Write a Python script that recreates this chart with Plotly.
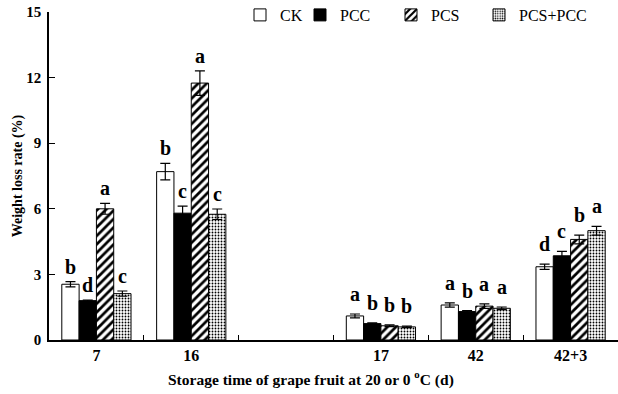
import plotly.graph_objects as go

# ---- data ----
categories = ["7", "16", "17", "42", "42+3"]
axis_categories = ["7", "16", " ", "17", "42", "42+3"]
series_names = ["CK", "PCC", "PCS", "PCS+PCC"]

ck = [2.55, 7.70, 1.10, 1.60, 3.35]
pcc = [1.80, 5.80, 0.75, 1.30, 3.85]
pcs = [6.00, 11.75, 0.65, 1.55, 4.60]
pcs_pcc = [2.12, 5.75, 0.60, 1.45, 5.00]

ck_err = [0.12, 0.38, 0.09, 0.10, 0.12]
pcc_err = [0.03, 0.32, 0.03, 0.04, 0.20]
pcs_err = [0.25, 0.56, 0.04, 0.10, 0.20]
pcs_pcc_err = [0.12, 0.24, 0.03, 0.06, 0.20]

ck_letters = ["b", "b", "a", "a", "d"]
pcc_letters = ["d", "c", "b", "b", "c"]
pcs_letters = ["a", "a", "b", "a", "b"]
pcs_pcc_letters = ["c", "c", "b", "a", "a"]

values = [ck, pcc, pcs, pcs_pcc]
errors = [ck_err, pcc_err, pcs_err, pcs_pcc_err]
letters = [ck_letters, pcc_letters, pcs_letters, pcs_pcc_letters]

# ---- style ----
FONT = "Liberation Serif"
W, H = 618, 394
M_L, M_R, M_T, M_B = 49, 0, 12, 54
BARGAP = 0.27
label_shift = [2, 2, 7, 7, 7]

patterns = [
    dict(shape="", fillmode="replace"),
    dict(shape="", fillmode="replace"),
    dict(shape="/", size=6, solidity=0.45, fgcolor="black", bgcolor="white", fillmode="replace"),
    dict(shape=".", size=3, solidity=0.3, fgcolor="black", bgcolor="white", fillmode="replace"),
]
fills = ["white", "black", "white", "white"]
legend_ids = ["legend", "legend2", "legend3", "legend4"]
legend_px = [240, 300, 391, 479]

fig = go.Figure()
for i, name in enumerate(series_names):
    fig.add_trace(go.Bar(
        name=name,
        x=categories,
        y=values[i],
        marker=dict(color=fills[i], line=dict(color="black", width=1), pattern=patterns[i]),
        error_y=dict(type="data", array=errors[i], visible=True, color="black", thickness=1.2, width=5),
        legend=legend_ids[i],
        showlegend=True,
    ))

# significance letters
n = len(series_names)
group_w = 1 - BARGAP
for i in range(n):
    for j, cat in enumerate(categories):
        idx = axis_categories.index(cat)
        xpos = idx - group_w / 2 + (i + 0.5) * group_w / n
        fig.add_annotation(
            x=xpos, y=values[i][j] + errors[i][j], xref="x", yref="y",
            text=letters[i][j], showarrow=False, yanchor="bottom",
            yshift=label_shift[j],
            font=dict(family=FONT, size=20, color="black", weight="bold"),
        )

# x-axis title as annotation
plot_w = W - M_L - M_R
plot_h = H - M_T - M_B
fig.add_annotation(
    x=(311 - M_L) / plot_w, y=(H - M_B - 378) / plot_h, xref="paper", yref="paper",
    text="Storage time of grape fruit at 20 or 0 <sup>o</sup>C (d)", showarrow=False,
    xanchor="center", yanchor="middle",
    font=dict(family=FONT, size=15.5, color="black", weight="bold"),
)

layout_legends = {}
for k, lid in enumerate(legend_ids):
    layout_legends[lid] = dict(
        x=legend_px[k] / W, xref="container", xanchor="left",
        y=1 - 15 / H, yref="container", yanchor="middle",
        orientation="h", bgcolor="rgba(0,0,0,0)",
        font=dict(family=FONT, size=16, color="black"),
        itemclick=False, itemdoubleclick=False, visible=True,
    )

fig.update_layout(
    width=W, height=H,
    margin=dict(l=M_L, r=M_R, t=M_T, b=M_B, autoexpand=False),
    paper_bgcolor="white", plot_bgcolor="white",
    barmode="group", bargap=BARGAP, bargroupgap=0,
    font=dict(family=FONT, color="black"),
    showlegend=True,
    **layout_legends,
)

fig.update_xaxes(
    type="category", categoryorder="array", categoryarray=axis_categories,
    range=[-0.5, len(axis_categories) - 0.5],
    showline=True, linecolor="black", linewidth=1.5,
    ticks="inside", tickson="boundaries", ticklen=5, tickwidth=1.2, tickcolor="black",
    showgrid=False, zeroline=False,
    tickfont=dict(family=FONT, size=16, color="black", weight="bold"),
)
fig.update_yaxes(
    range=[0, 15], tickvals=[0, 3, 6, 9, 12, 15],
    showline=True, linecolor="black", linewidth=1.5,
    ticks="inside", ticklen=6, tickwidth=1.2, tickcolor="black",
    showgrid=False, zeroline=False,
    ticklabelstandoff=3,
    tickfont=dict(family=FONT, size=15, color="black", weight="bold"),
    title=dict(text="Weight loss rate (%)", standoff=0,
               font=dict(family=FONT, size=14, color="black", weight="bold")),
)

fig.write_html("out.html")
